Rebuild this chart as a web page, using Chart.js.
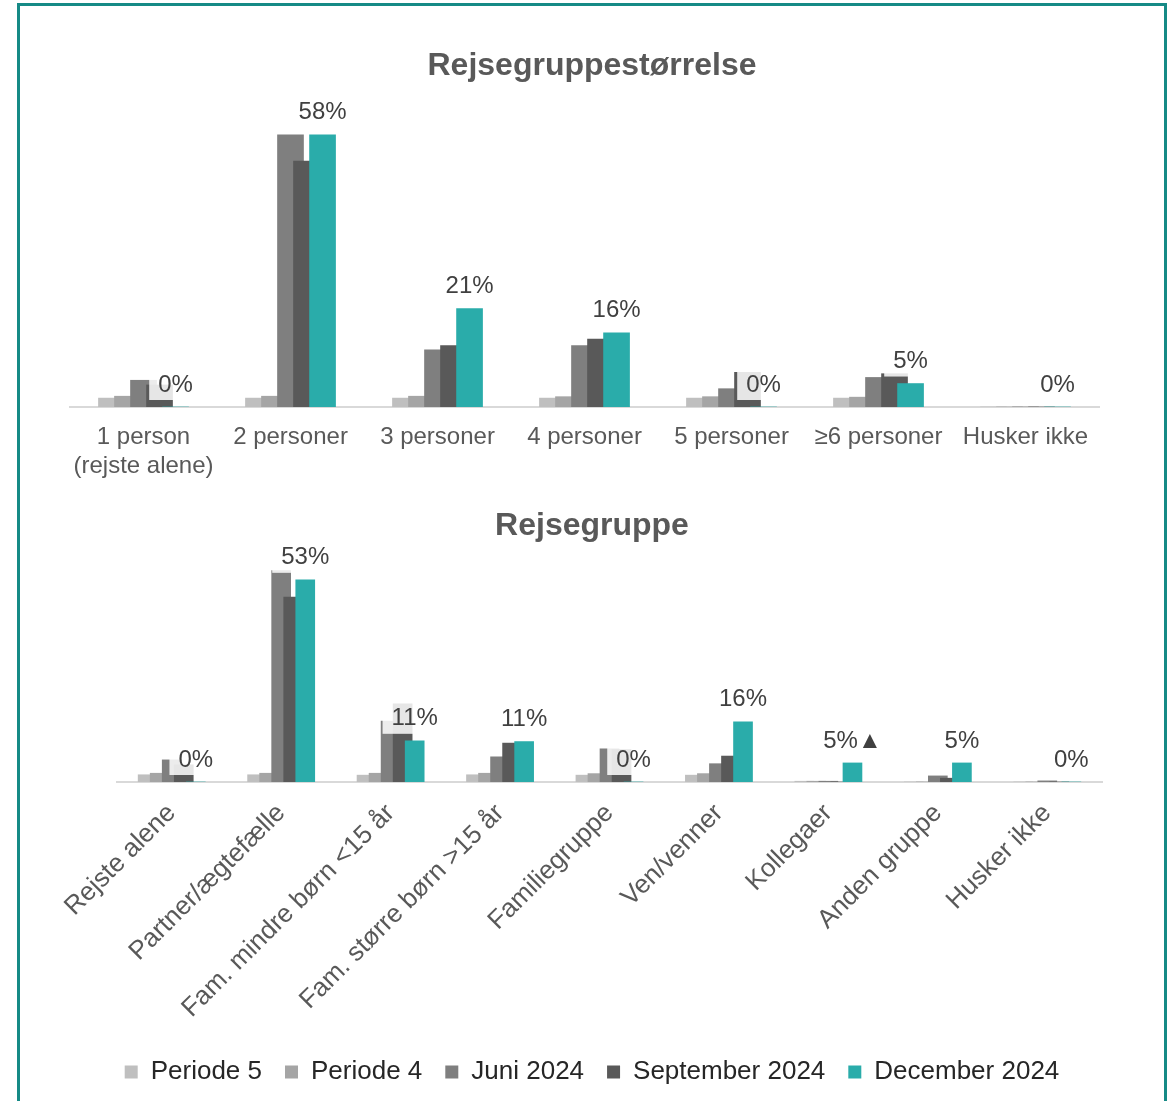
<!DOCTYPE html>
<html>
<head>
<meta charset="utf-8">
<script src="https://cdn.jsdelivr.net/npm/chart.js@4.4.1/dist/chart.umd.min.js"></script>
<style>
  html, body { margin: 0; padding: 0; background: #fff; }
  body { width: 1173px; height: 1101px; position: relative; overflow: hidden; }
  #frame { position: absolute; left: 17px; top: 3px; width: 1144px; height: 1120px; border: 3px solid #168a86; }
  #sizeChart { position: absolute; left: 0; top: 20px; }
  #groupChart { position: absolute; left: 0; top: 490px; }
</style>
</head>
<body>
<div id="frame"></div>
<canvas id="sizeChart" width="1173" height="470"></canvas>
<canvas id="groupChart" width="1173" height="611"></canvas>
<script>
const seriesNames = ['Periode 5', 'Periode 4', 'Juni 2024', 'September 2024', 'December 2024'];
const seriesColors = ['#bfbfbf', '#a5a5a5', '#7f7f7f', '#595959', '#2aacaa'];

// Rejsegruppestørrelse
const sizeCategories = [['1 person', '(rejste alene)'], '2 personer', '3 personer', '4 personer', '5 personer', '≥6 personer', 'Husker ikke'];
const sizeP5 = [1.9, 1.9, 1.9, 1.9, 1.9, 1.9, 0];
const sizeP4 = [2.3, 2.3, 2.3, 2.2, 2.2, 2.1, 0];
const sizeJun = [5.7, 58, 12.2, 13.1, 3.9, 6.3, 0];
const sizeSep = [4.7, 52.4, 13.1, 14.5, 7.4, 7.1, 0];
const sizeDec = [0, 58, 21, 15.8, 0, 5, 0];
const sizeLabels = ['0%', '58%', '21%', '16%', '0%', '5%', '0%'];

// Rejsegruppe
const groupCategories = ['Rejste alene', 'Partner/ægtefælle', 'Fam. mindre børn <15 år', 'Fam. større børn >15 år', 'Familiegruppe', 'Ven/venner', 'Kollegaer', 'Anden gruppe', 'Husker ikke'];
const groupP5 = [1.9, 1.9, 1.8, 1.9, 1.8, 1.8, 0.2, 0, 0];
const groupP4 = [2.3, 2.3, 2.3, 2.3, 2.2, 2.2, 0.2, 0, 0];
const groupJun = [5.8, 55.4, 16, 6.6, 8.7, 4.8, 0.2, 1.6, 0.3];
const groupSep = [4.5, 48.5, 20.5, 10.2, 8.5, 6.8, 0, 1.0, 0];
const groupDec = [0, 53, 10.8, 10.6, 0, 15.8, 5, 5, 0];
const groupLabels = ['0%', '53%', '11%', '11%', '0%', '16%', '5%▲', '5%', '0%'];

const fontFamily = "'Liberation Sans', Arial, sans-serif";
Chart.defaults.font.family = fontFamily;
Chart.defaults.animation = false;

// value labels above the last series, on a see-through white box
const barLabels = {
  id: 'barLabels',
  afterDatasetsDraw(chart, args, opts) {
    const meta = chart.getDatasetMeta(chart.data.datasets.length - 1);
    const ctx = chart.ctx;
    ctx.save();
    ctx.font = '24px ' + fontFamily;
    ctx.textAlign = 'center';
    ctx.textBaseline = 'middle';
    meta.data.forEach((bar, i) => {
      const text = opts.texts[i];
      const w = ctx.measureText(text).width;
      const y = bar.y - 23;
      ctx.fillStyle = 'rgba(255,255,255,0.85)';
      ctx.fillRect(bar.x - w / 2 - 9, y - 16, w + 18, 32);
      ctx.fillStyle = '#404040';
      ctx.fillText(text, bar.x, y + 1);
    });
    ctx.restore();
  }
};

function makeDatasets(series, step, thickness) {
  return series.map((values, d) => ({
    label: seriesNames[d],
    backgroundColor: seriesColors[d],
    data: values.map((v, i) => ({ x: i + (d - 2) * step, y: v })),
    barThickness: thickness,
    grouped: false,
    order: series.length - 1 - d
  }));
}

function xAxis(categories, rotation, height, fontSize) {
  return {
    type: 'linear',
    offset: false,
    min: -0.5,
    max: categories.length - 0.5,
    afterBuildTicks: (axis) => { axis.ticks = categories.map((c, i) => ({ value: i })); },
    afterFit: (axis) => { axis.height = height; },
    grid: { display: false, drawTicks: false },
    border: { color: '#d9d9d9', width: 2 },
    ticks: {
      callback: (v) => categories[v],
      autoSkip: false,
      minRotation: rotation,
      maxRotation: rotation,
      color: '#595959',
      font: { size: fontSize },
      padding: 16
    }
  };
}

// hidden value axis, only used to keep titles centred like the original
function yAxis(max, position, width) {
  return {
    position: position,
    min: 0,
    max: max,
    ticks: { display: false },
    grid: { display: false },
    border: { display: false },
    afterFit: (axis) => { axis.width = width; }
  };
}

new Chart(document.getElementById('sizeChart'), {
  type: 'bar',
  data: { datasets: makeDatasets([sizeP5, sizeP4, sizeJun, sizeSep, sizeDec], 0.109, 26) },
  options: {
    responsive: false,
    layout: { padding: { left: 70, right: 59, top: 0, bottom: 10 } },
    scales: {
      x: xAxis(sizeCategories, 0, 73, 24),
      y: yAxis(63.3, 'right', 15)
    },
    plugins: {
      title: { display: true, text: 'Rejsegruppestørrelse', color: '#595959', font: { size: 32, weight: 'bold' }, padding: { top: 27, bottom: 24.6 } },
      legend: { display: false },
      tooltip: { enabled: false },
      barLabels: { texts: sizeLabels }
    }
  },
  plugins: [barLabels]
});

new Chart(document.getElementById('groupChart'), {
  type: 'bar',
  data: { datasets: makeDatasets([groupP5, groupP4, groupJun, groupSep, groupDec], 0.11, 19) },
  options: {
    responsive: false,
    layout: { padding: { left: 82, right: 71, top: 0, bottom: 6 } },
    scales: {
      x: xAxis(groupCategories, 45, 254, 26),
      y: yAxis(58.2, 'left', 35)
    },
    plugins: {
      title: { display: true, text: 'Rejsegruppe', color: '#595959', font: { size: 32, weight: 'bold' }, padding: { top: 17, bottom: 14.6 } },
      legend: {
        position: 'bottom',
        labels: {
          boxWidth: 13,
          boxHeight: 13,
          padding: 23,
          color: '#262626',
          font: { size: 26 },
          sort: (a, b) => a.datasetIndex - b.datasetIndex
        }
      },
      tooltip: { enabled: false },
      barLabels: { texts: groupLabels }
    }
  },
  plugins: [barLabels]
});
</script>
</body>
</html>
